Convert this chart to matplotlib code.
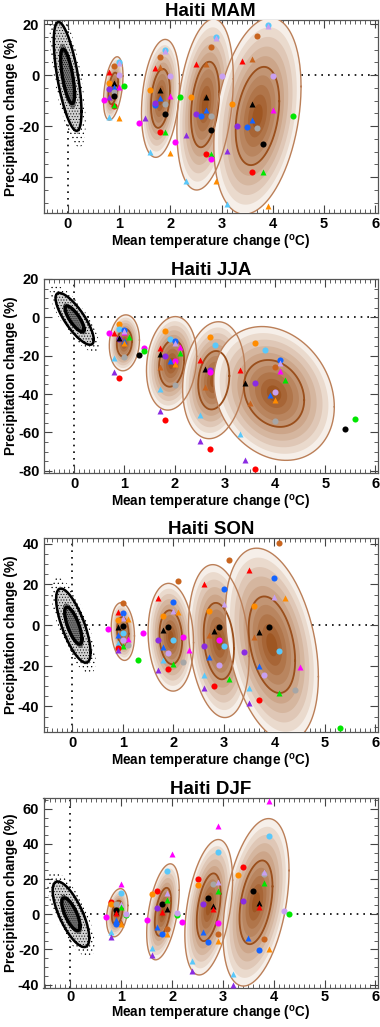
import matplotlib
matplotlib.use("Agg")
import matplotlib.pyplot as plt
import numpy as np
from matplotlib.patches import Polygon
from matplotlib.ticker import MultipleLocator

plt.rcParams['font.family'] = ['Liberation Sans', 'DejaVu Sans']
plt.rcParams['font.weight'] = 'bold'
plt.rcParams['axes.unicode_minus'] = False
plt.rcParams['mathtext.fontset'] = 'custom'
plt.rcParams['mathtext.rm'] = 'Liberation Sans:bold'
plt.rcParams['hatch.linewidth'] = 0.4

# model codes: colour letter + marker
COLS = {'k': 'black', 'r': '#ff0000', 'c': '#c8641e', 'o': '#ff8c00', 'g': '#00e600',
        'b': '#1464ff', 's': '#5ac8fa', 'p': '#8a2be2', 'm': '#ff00ff', 'v': '#c8a0f0',
        'y': '#a6a6a6'}

seasons = ['MAM', 'JJA', 'SON', 'DJF']

# natural variability ellipse (cx, cy, sx, sy, rho)
noise_ell = {
    'MAM': (0.0, -0.5, 0.27, 21.3, -0.65),
    'JJA': (0.01, -0.8, 0.38, 13.5, -0.8),
    'SON': (0.02, -0.3, 0.34, 18.2, -0.72),
    'DJF': (0.01, 0.0, 0.36, 18.6, -0.72),
}

# projected ellipses, 4 future periods (cx, cy, sx, sy, rho)
proj_ell = {
    'MAM': [(0.89, -5.2, 0.19, 12.4, 0.4), (1.81, -9.1, 0.37, 23.1, 0.25),
            (2.68, -11.5, 0.55, 33.5, 0.3), (3.7, -16.0, 0.85, 38.5, 0.3)],
    'JJA': [(1.0, -13.3, 0.3, 14.6, 0.1), (1.94, -24.0, 0.5, 24.4, 0.15),
            (2.78, -32.8, 0.62, 30.5, 0.15), (3.98, -39.7, 1.2, 34.9, -0.2)],
    'SON': [(1.0, -3.2, 0.23, 14.2, -0.15), (1.95, -6.0, 0.45, 26.5, -0.1),
            (2.9, -7.9, 0.6, 37.6, -0.2), (3.95, -9.7, 0.92, 47.5, -0.33)],
    'DJF': [(0.92, 0.9, 0.21, 13.7, 0.3), (1.82, 1.4, 0.32, 27.3, 0.45),
            (2.72, 4.0, 0.47, 38.5, 0.4), (3.65, 6.8, 0.65, 47.6, 0.38)],
}

# model points (model, dT, dP)
mam_pts = [
    ('so', 1.0, 5.2), ('v^', 1.0, 4.9), ('co', 0.9, 3.6), ('r^', 0.8, 1.4), ('vo', 1.0, 0.0),
    ('oo', 0.8, -3.0), ('k^', 0.9, -3.2), ('go', 1.1, -4.2), ('b^', 0.9, -4.8), ('m^', 1.0, -4.8),
    ('po', 0.8, -5.5), ('yo', 0.9, -6.5), ('ko', 0.9, -8.0), ('p^', 0.8, -8.5), ('mo', 0.7, -9.9),
    ('ro', 0.9, -12.2), ('g^', 0.9, -11.7), ('s^', 0.8, -16.5), ('o^', 1.0, -16.8),
    ('so', 1.9, 10.0), ('v^', 1.9, 9.6), ('co', 1.8, 7.2), ('r^', 1.7, 2.7), ('c^', 1.8, 3.0),
    ('vo', 2.0, -0.3), ('oo', 1.6, -5.9), ('k^', 1.8, -5.7), ('go', 2.2, -8.5), ('m^', 2.0, -8.1),
    ('b^', 1.8, -9.1), ('bo', 1.7, -11.5), ('po', 1.7, -10.9), ('yo', 1.9, -11.4), ('ko', 1.9, -15.3),
    ('p^', 1.5, -16.7), ('mo', 1.4, -18.6), ('ro', 1.8, -22.4), ('g^', 1.9, -22.1), ('mo', 2.1, -26.1),
    ('p^', 2.3, -23.6), ('s^', 1.6, -30.1), ('o^', 2.0, -30.5),
    ('so', 2.9, 15.0), ('v^', 2.9, 14.5), ('co', 2.8, 11.2), ('r^', 2.5, 4.2), ('c^', 2.7, 4.5),
    ('vo', 3.0, -0.4), ('oo', 2.4, -8.6), ('k^', 2.7, -8.5), ('b^', 2.7, -13.5), ('po', 2.5, -15.4),
    ('bo', 2.6, -15.9), ('yo', 2.8, -16.2), ('ko', 2.8, -21.5), ('ro', 2.7, -30.7), ('g^', 2.8, -30.7),
    ('mo', 2.8, -32.8), ('s^', 2.3, -41.4), ('o^', 2.9, -41.6),
    ('so', 3.9, 19.6), ('v^', 3.9, 19.2), ('co', 3.7, 15.3), ('r^', 3.4, 5.7), ('c^', 3.6, 6.2),
    ('vo', 4.0, -0.5), ('oo', 3.2, -11.3), ('k^', 3.6, -11.2), ('m^', 4.0, -13.5), ('go', 4.4, -16.1),
    ('b^', 3.6, -17.7), ('po', 3.3, -19.9), ('bo', 3.5, -20.4), ('yo', 3.7, -20.6), ('ko', 3.8, -27.0),
    ('p^', 3.1, -29.8), ('ro', 3.6, -37.8), ('g^', 3.8, -38.0), ('s^', 3.1, -50.6), ('o^', 3.9, -51.2),
]

jja_pts = [
    ('oo', 0.9, -3.5), ('so', 0.9, -6.3), ('bo', 1.0, -6.6), ('m^', 1.0, -7.8), ('v^', 1.0, -7.3),
    ('mo', 0.7, -8.4), ('r^', 0.8, -8.4), ('po', 0.9, -11.3), ('k^', 0.9, -10.6), ('g^', 1.1, -10.1),
    ('b^', 1.0, -12.2), ('o^', 1.0, -13.2), ('yo', 1.0, -20.7), ('s^', 0.8, -21.4), ('p^', 0.8, -28.7),
    ('ro', 0.9, -31.7), ('mo', 1.4, -15.9), ('go', 1.4, -17.6), ('ko', 1.3, -19.7),
    ('oo', 1.8, -7.0), ('so', 1.9, -11.1), ('bo', 2.0, -12.4), ('v^', 2.0, -13.6), ('m^', 2.1, -15.3),
    ('r^', 1.7, -16.2), ('g^', 2.1, -18.8), ('k^', 1.7, -19.3), ('po', 1.8, -20.0), ('mo', 2.0, -22.6),
    ('b^', 1.9, -23.0), ('o^', 2.0, -24.6), ('c^', 1.7, -26.1), ('yo', 2.0, -35.4), ('s^', 1.7, -37.6),
    ('p^', 1.7, -49.0), ('ro', 1.8, -53.8),
    ('oo', 2.7, -10.5), ('so', 2.8, -14.6), ('r^', 2.5, -22.1), ('k^', 2.6, -27.2), ('po', 2.7, -27.4),
    ('mo', 2.7, -28.6), ('c^', 2.6, -36.2), ('s^', 2.5, -50.9), ('p^', 2.5, -64.3), ('ro', 2.7, -68.8),
    ('oo', 3.6, -13.6), ('so', 3.8, -17.1), ('bo', 4.1, -22.5), ('v^', 4.1, -24.0), ('co', 4.0, -26.1),
    ('m^', 4.1, -28.2), ('r^', 3.3, -27.7), ('g^', 4.2, -32.9), ('k^', 3.4, -34.0), ('po', 3.6, -34.0),
    ('vo', 4.0, -38.9), ('b^', 3.9, -40.6), ('o^', 4.0, -43.2), ('c^', 3.5, -44.9), ('yo', 4.0, -54.2),
    ('s^', 3.3, -61.0), ('p^', 3.4, -74.6), ('ro', 3.6, -79.1), ('ko', 5.4, -58.5), ('go', 5.6, -52.8),
]

son_pts = [
    ('co', 1.0, 10.7), ('r^', 0.9, 6.4), ('bo', 1.0, 5.7), ('v^', 1.0, 3.3), ('oo', 0.9, 2.5),
    ('o^', 1.1, 3.0), ('k^', 0.9, -1.0), ('ko', 1.0, -0.5), ('mo', 0.7, -1.8), ('b^', 0.9, -5.0),
    ('so', 1.0, -3.9), ('m^', 1.1, -6.7), ('vo', 1.0, -7.5), ('mo', 1.4, -3.8), ('s^', 0.9, -8.9),
    ('yo', 1.1, -9.7), ('g^', 1.0, -10.5), ('ro', 0.9, -11.3), ('p^', 0.9, -12.3), ('go', 1.3, -17.4),
    ('co', 2.1, 21.6), ('r^', 1.7, 13.3), ('bo', 2.0, 11.5), ('v^', 2.0, 6.9), ('o^', 2.1, 6.2),
    ('oo', 1.8, 4.6), ('ko', 1.9, -0.8), ('k^', 1.8, -2.3), ('po', 1.7, -7.2), ('so', 2.0, -7.5),
    ('mo', 2.2, -5.7), ('b^', 1.8, -11.0), ('vo', 1.9, -13.9), ('m^', 2.3, -12.5), ('s^', 1.8, -17.4),
    ('yo', 2.2, -18.0), ('ro', 1.9, -21.6), ('g^', 2.0, -19.0), ('p^', 1.7, -22.3),
    ('co', 3.1, 31.8), ('r^', 2.6, 20.2), ('bo', 3.0, 17.5), ('v^', 3.0, 10.5), ('oo', 2.7, 6.9),
    ('ko', 2.9, -0.8), ('k^', 2.8, -3.0), ('c^', 2.7, -5.1), ('mo', 2.9, -7.4), ('po', 2.6, -10.3),
    ('so', 3.0, -10.5), ('b^', 2.7, -15.9), ('vo', 2.9, -19.8), ('s^', 2.6, -24.6), ('g^', 3.1, -26.7),
    ('ro', 2.8, -30.0), ('p^', 2.6, -31.1),
    ('co', 4.1, 40.5), ('r^', 3.5, 27.0), ('bo', 4.0, 23.3), ('v^', 4.0, 13.9), ('o^', 4.2, 13.3),
    ('oo', 3.6, 9.5), ('ko', 3.9, -0.8), ('k^', 3.7, -3.4), ('c^', 3.6, -5.7), ('po', 3.4, -13.3),
    ('so', 4.1, -12.8), ('b^', 3.7, -20.0), ('m^', 4.5, -20.8), ('vo', 3.8, -24.8), ('yo', 4.4, -31.8),
    ('s^', 3.5, -31.1), ('g^', 4.1, -33.4), ('ro', 3.7, -37.0), ('p^', 3.5, -38.5), ('go', 5.3, -50.7),
]

djf_pts = [
    ('m^', 1.0, 17.0), ('so', 1.0, 12.1), ('ro', 0.8, 6.9), ('oo', 0.8, 5.6), ('yo', 0.9, 5.8),
    ('v^', 1.0, 5.6), ('g^', 1.0, 4.1), ('ko', 0.9, 2.6), ('k^', 0.9, 1.5), ('r^', 0.9, 0.7),
    ('go', 1.1, -0.2), ('vo', 1.1, 0.0), ('mo', 0.7, -1.7), ('b^', 0.9, -3.4), ('c^', 1.0, -4.1),
    ('bo', 0.9, -5.4), ('o^', 1.0, -5.6), ('s^', 0.8, -10.1), ('p^', 0.8, -12.7),
    ('m^', 2.0, 34.3), ('so', 1.9, 24.4), ('ro', 1.7, 13.2), ('oo', 1.6, 11.4), ('v^', 1.9, 12.3),
    ('ko', 1.8, 6.0), ('g^', 1.9, 8.2), ('po', 1.7, 3.5), ('k^', 1.9, 2.8), ('r^', 1.8, 1.5),
    ('go', 2.1, -0.2), ('vo', 2.1, 0.7), ('mo', 1.5, -3.2), ('mo', 2.2, -4.5), ('co', 1.9, -8.2),
    ('b^', 1.7, -7.4), ('o^', 1.9, -11.2), ('bo', 1.8, -11.0), ('s^', 1.6, -19.2), ('p^', 1.6, -23.3),
    ('m^', 2.9, 50.3), ('so', 2.9, 35.6), ('ro', 2.5, 19.9), ('oo', 2.5, 16.9), ('yo', 2.8, 17.5),
    ('v^', 2.9, 18.2), ('g^', 2.9, 13.0), ('ko', 2.7, 9.3), ('po', 2.6, 5.6), ('k^', 2.8, 4.7),
    ('r^', 2.8, 2.8), ('mo', 2.9, -5.2), ('b^', 2.6, -10.2), ('co', 2.9, -11.2), ('bo', 2.7, -15.8),
    ('o^', 2.9, -15.3), ('s^', 2.4, -26.6), ('p^', 2.4, -32.0),
    ('m^', 3.9, 64.2), ('so', 3.9, 44.7), ('ro', 3.4, 26.6), ('oo', 3.3, 22.5), ('yo', 3.8, 23.1),
    ('v^', 3.8, 24.2), ('g^', 3.8, 17.9), ('ko', 3.6, 13.0), ('po', 3.4, 7.4), ('k^', 3.7, 6.5),
    ('r^', 3.7, 4.3), ('vo', 4.2, 2.0), ('go', 4.3, 0.2), ('b^', 3.5, -13.6), ('co', 3.8, -13.8),
    ('bo', 3.7, -20.1), ('o^', 3.9, -19.9), ('s^', 3.2, -33.9), ('p^', 3.2, -40.4),
]

points = {'MAM': mam_pts, 'JJA': jja_pts, 'SON': son_pts, 'DJF': djf_pts}

# axis ranges as in the figure
xlims = {'MAM': (-0.47, 6.05), 'JJA': (-0.61, 6.05), 'SON': (-0.57, 6.05), 'DJF': (-0.53, 6.05)}
ylims = {'MAM': (-54, 21.6), 'JJA': (-81.2, 20), 'SON': (-52.6, 42.8), 'DJF': (-41.9, 66.1)}
yticks = {'MAM': [-40, -20, 0, 20], 'JJA': [-80, -60, -40, -20, 0, 20],
          'SON': [-40, -20, 0, 20, 40], 'DJF': [-40, -20, 0, 20, 40, 60]}


def ell_xy(e, k=1.0, n=240):
    cx, cy, sx, sy, rho = e
    t = np.linspace(0, 2 * np.pi, n)
    x = cx + k * sx * np.cos(t)
    y = cy + k * sy * (rho * np.cos(t) + np.sqrt(1 - rho ** 2) * np.sin(t))
    return x, y


light = np.array([246, 239, 233]) / 255.
dark = np.array([158, 86, 34]) / 255.
nband = 10
scales = np.linspace(1.0, 0.12, nband)
shades = [light + (dark - light) * (i / (nband - 1)) ** 0.9 for i in range(nband)]

fig = plt.figure(figsize=(3.8, 10.27), dpi=100)
# (top, bottom) of each panel in pixels
boxes = [(20, 213), (279, 473), (538, 732), (798, 988)]

for season, (ptop, pbot) in zip(seasons, boxes):
    last = season == 'DJF'
    ax = fig.add_axes([43.5 / 380, 1 - pbot / 1027, 334.5 / 380, (pbot - ptop) / 1027])
    x0, x1 = xlims[season]
    y0, y1 = ylims[season]

    ax.plot([0, 0], [y0, y1], color='k', ls=(0, (1, 3)), lw=1.2, zorder=1)
    ax.plot([0, x1], [0, 0], color='k', ls=(0, (1, 3)), lw=1.2, zorder=1)

    # natural variability cloud: stippled shading, denser towards the centre
    ne = noise_ell[season]
    for k, fc, h in [(1.3, 'none', '.' * 4), (1.05, '#d2d2d2', '.' * 6), (0.6, '#7a7a7a', '.' * 8)]:
        ax.add_patch(Polygon(np.column_stack(ell_xy(ne, k)), closed=True, facecolor=fc,
                             edgecolor='k', hatch=h, lw=0, zorder=2))
    ax.plot(*ell_xy(ne, 1.0), color='k', lw=1.8, zorder=3)
    ax.plot(*ell_xy(ne, 0.5), color='k', lw=2.4, zorder=3)

    # projected distributions
    for e in proj_ell[season]:
        for k, col in zip(scales, shades):
            ax.fill(*ell_xy(e, k), color=col, lw=0, zorder=4)
        ax.plot(*ell_xy(e, 1.0), color='#bb7f58', lw=1.0, zorder=5)
        ax.plot(*ell_xy(e, 0.5), color='#9a4f1c', lw=1.3, zorder=5)

    for mod, dt, dp in points[season]:
        ax.plot(dt, dp, marker=mod[1], color=COLS[mod[0]], ms=4.9 if mod[1] == '^' else 4.4,
                mec='none', ls='none', zorder=6)

    ax.set_xlim(x0, x1)
    ax.set_ylim(y0, y1)
    ax.set_xticks(range(0, 7))
    ax.set_yticks(yticks[season])
    ax.xaxis.set_minor_locator(MultipleLocator(0.1))
    ax.yaxis.set_minor_locator(MultipleLocator(5))
    ax.tick_params(which='both', direction='in', top=True, right=True, color='#444444',
                   labelsize=10.5, pad=3)
    ax.tick_params(axis='x', pad=1.5 if last else 3)
    ax.tick_params(which='major', length=6, width=0.8)
    ax.tick_params(which='minor', length=3, width=0.6)
    for lab in ax.get_xticklabels() + ax.get_yticklabels():
        lab.set_fontweight('bold')
    for sp in ax.spines.values():
        sp.set_color('#555555')
        sp.set_linewidth(0.9)

    ax.set_title('Haiti ' + season, fontsize=13.5, fontweight='bold', pad=3)
    ax.set_xlabel(r'Mean temperature change ($^{\rm o}$C)', fontsize=9.8, fontweight='bold',
                  labelpad=0 if last else 1)
    ax.set_ylabel('Precipitation change (%)', fontsize=9.8, fontweight='bold', labelpad=0)

fig.savefig('out.png', dpi=100)
